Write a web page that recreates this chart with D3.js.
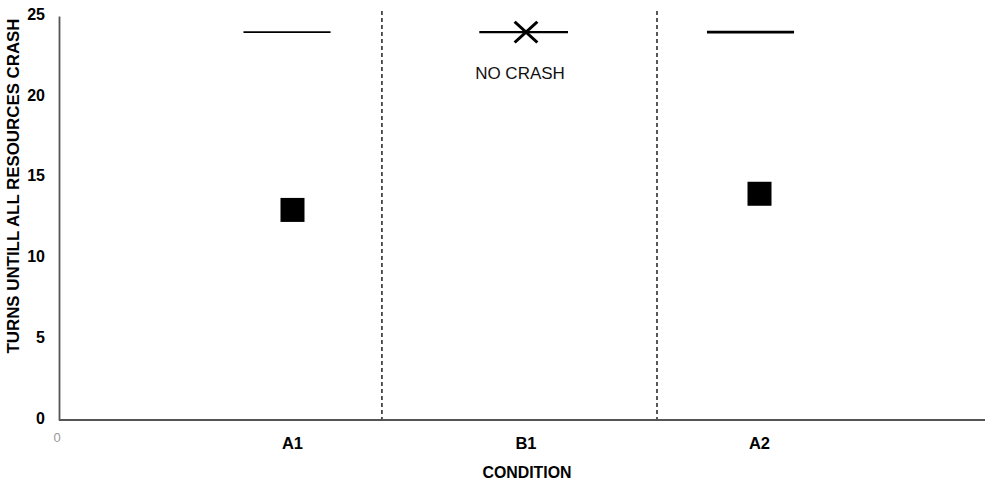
<!DOCTYPE html>
<html>
<head>
<meta charset="utf-8">
<script src="https://cdn.jsdelivr.net/npm/d3@7"></script>
<style>
  html, body { margin: 0; padding: 0; background: #fff; }
  svg { display: block; }
  text { font-family: "Liberation Sans", Arial, sans-serif; }
</style>
</head>
<body>
<svg id="chart" width="985" height="484"></svg>
<script>
// Conditions placed on a numeric x axis (1, 2, 3)
const conditions = ["A1", "B1", "A2"];
const conditionX = [1, 2, 3];

// Mean turns until all resources crash (null = never crashed)
const crashTurns = [13, null, 14];

// Upper reference line per condition: value and horizontal extent on the x axis
const maxTurns = [24, 24, 24];
const maxLineStart = [0.79, 1.80, 2.775];
const maxLineEnd = [1.163, 2.18, 3.148];
const maxLineWidth = [1.6, 2.2, 2.6];

// Condition markers for runs that did not crash
const noCrashNote = ["", "NO CRASH", ""];

// Dashed separators between conditions (x-axis units)
const separators = [1.383, 2.561];

// Y axis ticks
const yTicks = [0, 5, 10, 15, 20, 25];

const svg = d3.select("#chart");

const x = d3.scaleLinear().domain([0, 4]).range([59, 993]);
const y = d3.scaleLinear().domain([0, 25]).range([420, 16]);

// Separators
svg.append("g").selectAll("line").data(separators).join("line")
  .attr("x1", d => x(d)).attr("x2", d => x(d))
  .attr("y1", y(25) - 5).attr("y2", y(0))
  .attr("stroke", "#111").attr("stroke-width", 1.4)
  .attr("stroke-dasharray", "4,3");

// Axes
const yAxis = d3.axisLeft(y).tickValues(yTicks).tickSize(0).tickPadding(14).tickFormat(d3.format("d"));
const gy = svg.append("g").attr("transform", `translate(${x(0)},0)`).call(yAxis);
gy.select(".domain").attr("stroke", "#555").attr("stroke-width", 1.8);
gy.selectAll("text").attr("font-size", 16).attr("font-weight", "bold").attr("fill", "#000")
  .attr("font-family", "Liberation Sans, Arial, sans-serif").attr("dy", "0.2em");

const gx = svg.append("g").attr("transform", `translate(0,${y(0)})`);
gx.append("line")
  .attr("x1", x(0)).attr("x2", 985)
  .attr("stroke", "#555").attr("stroke-width", 1.8);

// Origin label on the x axis
gx.append("text").attr("x", x(0) - 2).attr("y", 22)
  .attr("text-anchor", "middle").attr("font-size", 13).attr("fill", "#999").text("0");

// Category labels
gx.selectAll("text.cat").data(conditions).join("text").attr("class", "cat")
  .attr("x", (d, i) => x(conditionX[i])).attr("y", 29)
  .attr("text-anchor", "middle").attr("font-size", 16.5).attr("font-weight", "bold")
  .attr("fill", "#000").text(d => d);

// Axis titles
svg.append("text")
  .attr("x", 527).attr("y", 478)
  .attr("text-anchor", "middle").attr("font-size", 16).attr("font-weight", "bold")
  .attr("textLength", 89).attr("lengthAdjust", "spacingAndGlyphs")
  .text("CONDITION");

svg.append("text")
  .attr("transform", `translate(19,186) rotate(-90)`)
  .attr("text-anchor", "middle").attr("font-size", 16).attr("font-weight", "bold")
  .attr("textLength", 335).attr("lengthAdjust", "spacingAndGlyphs")
  .text("TURNS UNTILL ALL RESOURCES CRASH");

// Upper reference lines
svg.append("g").selectAll("line").data(maxTurns).join("line")
  .attr("x1", (d, i) => x(maxLineStart[i])).attr("x2", (d, i) => x(maxLineEnd[i]))
  .attr("y1", d => y(d)).attr("y2", d => y(d))
  .attr("stroke", "#000").attr("stroke-width", (d, i) => maxLineWidth[i]);

// Crash markers (squares)
const sq = 24;
svg.append("g").selectAll("rect")
  .data(crashTurns.map((v, i) => ({ v, i })).filter(d => d.v !== null))
  .join("rect")
  .attr("x", d => x(conditionX[d.i]) - sq / 2)
  .attr("y", d => y(d.v) - sq / 2)
  .attr("width", sq).attr("height", sq).attr("fill", "#000");

// No-crash markers (crosses at the reference line) with note
const noCrash = crashTurns.map((v, i) => ({ v, i })).filter(d => d.v === null);
const cross = d3.symbol().type(d3.symbolX).size(280);
svg.append("g").selectAll("path").data(noCrash).join("path")
  .attr("transform", d => `translate(${x(conditionX[d.i])},${y(maxTurns[d.i])}) scale(1.1,1)`)
  .attr("d", cross).attr("fill", "none").attr("stroke", "#000").attr("stroke-width", 2.8);

svg.append("g").selectAll("text").data(noCrash).join("text")
  .attr("x", d => x(conditionX[d.i]) - 6).attr("y", d => y(maxTurns[d.i]) + 47)
  .attr("text-anchor", "middle").attr("font-size", 17).attr("fill", "#111")
  .text(d => noCrashNote[d.i]);
</script>
</body>
</html>
